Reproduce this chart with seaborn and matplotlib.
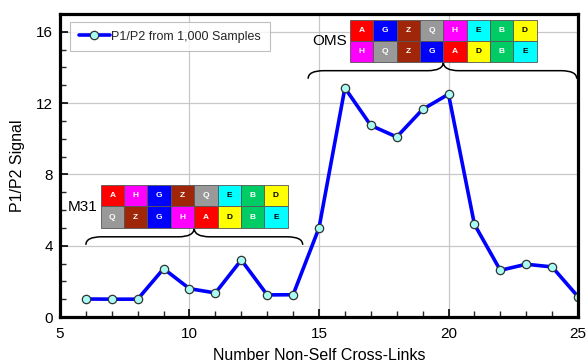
import matplotlib
matplotlib.use("Agg")
import matplotlib.pyplot as plt
import seaborn as sns
import pandas as pd
from matplotlib.patches import Rectangle, PathPatch
from matplotlib.path import Path

# ---- data ----
cross_links = [6, 7, 8, 9, 10, 11, 12, 13, 14, 15, 16, 17, 18, 19, 20, 21, 22, 23, 24, 25]
signal = [1.01, 1.0, 1.0, 2.71, 1.59, 1.35, 3.2, 1.24, 1.25, 5.0, 12.85, 10.75, 10.1, 11.65,
          12.5, 5.2, 2.62, 2.96, 2.81, 1.14]
series_label = "P1/P2 from 1,000 Samples"

m31_top = ["A", "H", "G", "Z", "Q", "E", "B", "D"]
m31_bottom = ["Q", "Z", "G", "H", "A", "D", "B", "E"]
oms_top = ["A", "G", "Z", "Q", "H", "E", "B", "D"]
oms_bottom = ["H", "Q", "Z", "G", "A", "D", "B", "E"]

cell_colors = {"A": "#ff0000", "H": "#ff00ff", "G": "#0000ff", "Z": "#a0260a",
               "Q": "#999999", "E": "#00ffff", "B": "#00cc66", "D": "#ffff00"}
dark_text = {"E", "D"}

sns.set_theme(style="white")
plt.rcParams["font.family"] = ["Liberation Sans", "DejaVu Sans"]

fig = plt.figure(figsize=(5.87, 3.62), dpi=100)
ax = fig.add_axes([0.1022, 0.1243, 0.8825, 0.837])

df = pd.DataFrame({"x": cross_links, "y": signal})
sns.lineplot(data=df, x="x", y="y", ax=ax, color="#0000ff", linewidth=2.6,
             marker="o", markersize=6, markerfacecolor="#a8fcf4",
             markeredgecolor="#333333", markeredgewidth=0.9, label=series_label)

ax.set_xlim(5, 25)
ax.set_ylim(0, 17)
ax.set_xticks([5, 10, 15, 20, 25])
ax.set_yticks([0, 4, 8, 12, 16])
ax.set_xticks(range(5, 26), minor=True)
ax.set_yticks(range(0, 17), minor=True)
ax.tick_params(axis="both", which="major", direction="in", length=6, width=1.2,
               labelsize=11, colors="black", bottom=True, left=True)
ax.tick_params(axis="x", which="major", pad=7)
ax.tick_params(axis="y", which="major", pad=5)
ax.tick_params(axis="both", which="minor", direction="in", length=4, width=1.0,
               bottom=True, left=True)
ax.grid(True, which="major", color="#c8c8c8", linewidth=0.9)
ax.set_axisbelow(True)
for s in ax.spines.values():
    s.set_color("black")
    s.set_linewidth(2.3)

ax.set_xlabel("Number Non-Self Cross-Links", fontsize=11.5, color="black", labelpad=5)
ax.set_ylabel("P1/P2 Signal", fontsize=11.5, color="black", labelpad=8)

leg = ax.legend(loc="upper left", bbox_to_anchor=(0.019, 0.974), borderaxespad=0,
                fontsize=9, frameon=True, fancybox=False, handlelength=2.5,
                borderpad=0.7, handletextpad=0.1)
leg.get_frame().set_edgecolor("#b0b0b0")
leg.get_frame().set_linewidth(0.8)


def draw_table(x0, y_top, cw, ch, rows):
    for r, row in enumerate(rows):
        for c, key in enumerate(row):
            x = x0 + c * cw
            y = y_top - (r + 1) * ch
            ax.add_patch(Rectangle((x, y), cw, ch, facecolor=cell_colors[key],
                                   edgecolor="#555555", linewidth=0.6, zorder=5))
            ax.text(x + cw / 2, y + ch / 2, key, ha="center", va="center",
                    fontsize=6, fontweight="bold",
                    color="black" if key in dark_text else "white", zorder=6)


def draw_brace(x0, x1, xc, ytip, yh, ypeak, r=0.6):
    verts = [(x0, ytip), (x0, yh), (x0 + r, yh),
             (xc - r, yh), (xc, yh), (xc, ypeak),
             (xc, yh), (xc + r, yh),
             (x1 - r, yh), (x1, yh), (x1, ytip)]
    codes = [Path.MOVETO, Path.CURVE3, Path.CURVE3,
             Path.LINETO, Path.CURVE3, Path.CURVE3,
             Path.CURVE3, Path.CURVE3,
             Path.LINETO, Path.CURVE3, Path.CURVE3]
    ax.add_patch(PathPatch(Path(verts, codes), facecolor="none", edgecolor="black",
                           linewidth=1.1, zorder=4, clip_on=False))


draw_table(6.57, 7.40, 0.9025, 1.2, [m31_top, m31_bottom])
draw_table(16.2, 16.69, 0.9, 1.19, [oms_top, oms_bottom])
draw_brace(6.0, 14.37, 10.18, 4.05, 4.5, 5.0)
draw_brace(14.58, 24.95, 19.8, 13.37, 13.82, 14.31)

ax.text(6.43, 6.18, "M31", ha="right", va="center", fontsize=11, color="black", zorder=6)
ax.text(16.09, 15.47, "OMS", ha="right", va="center", fontsize=11, color="black", zorder=6)

fig.savefig("out.png", dpi=100)
